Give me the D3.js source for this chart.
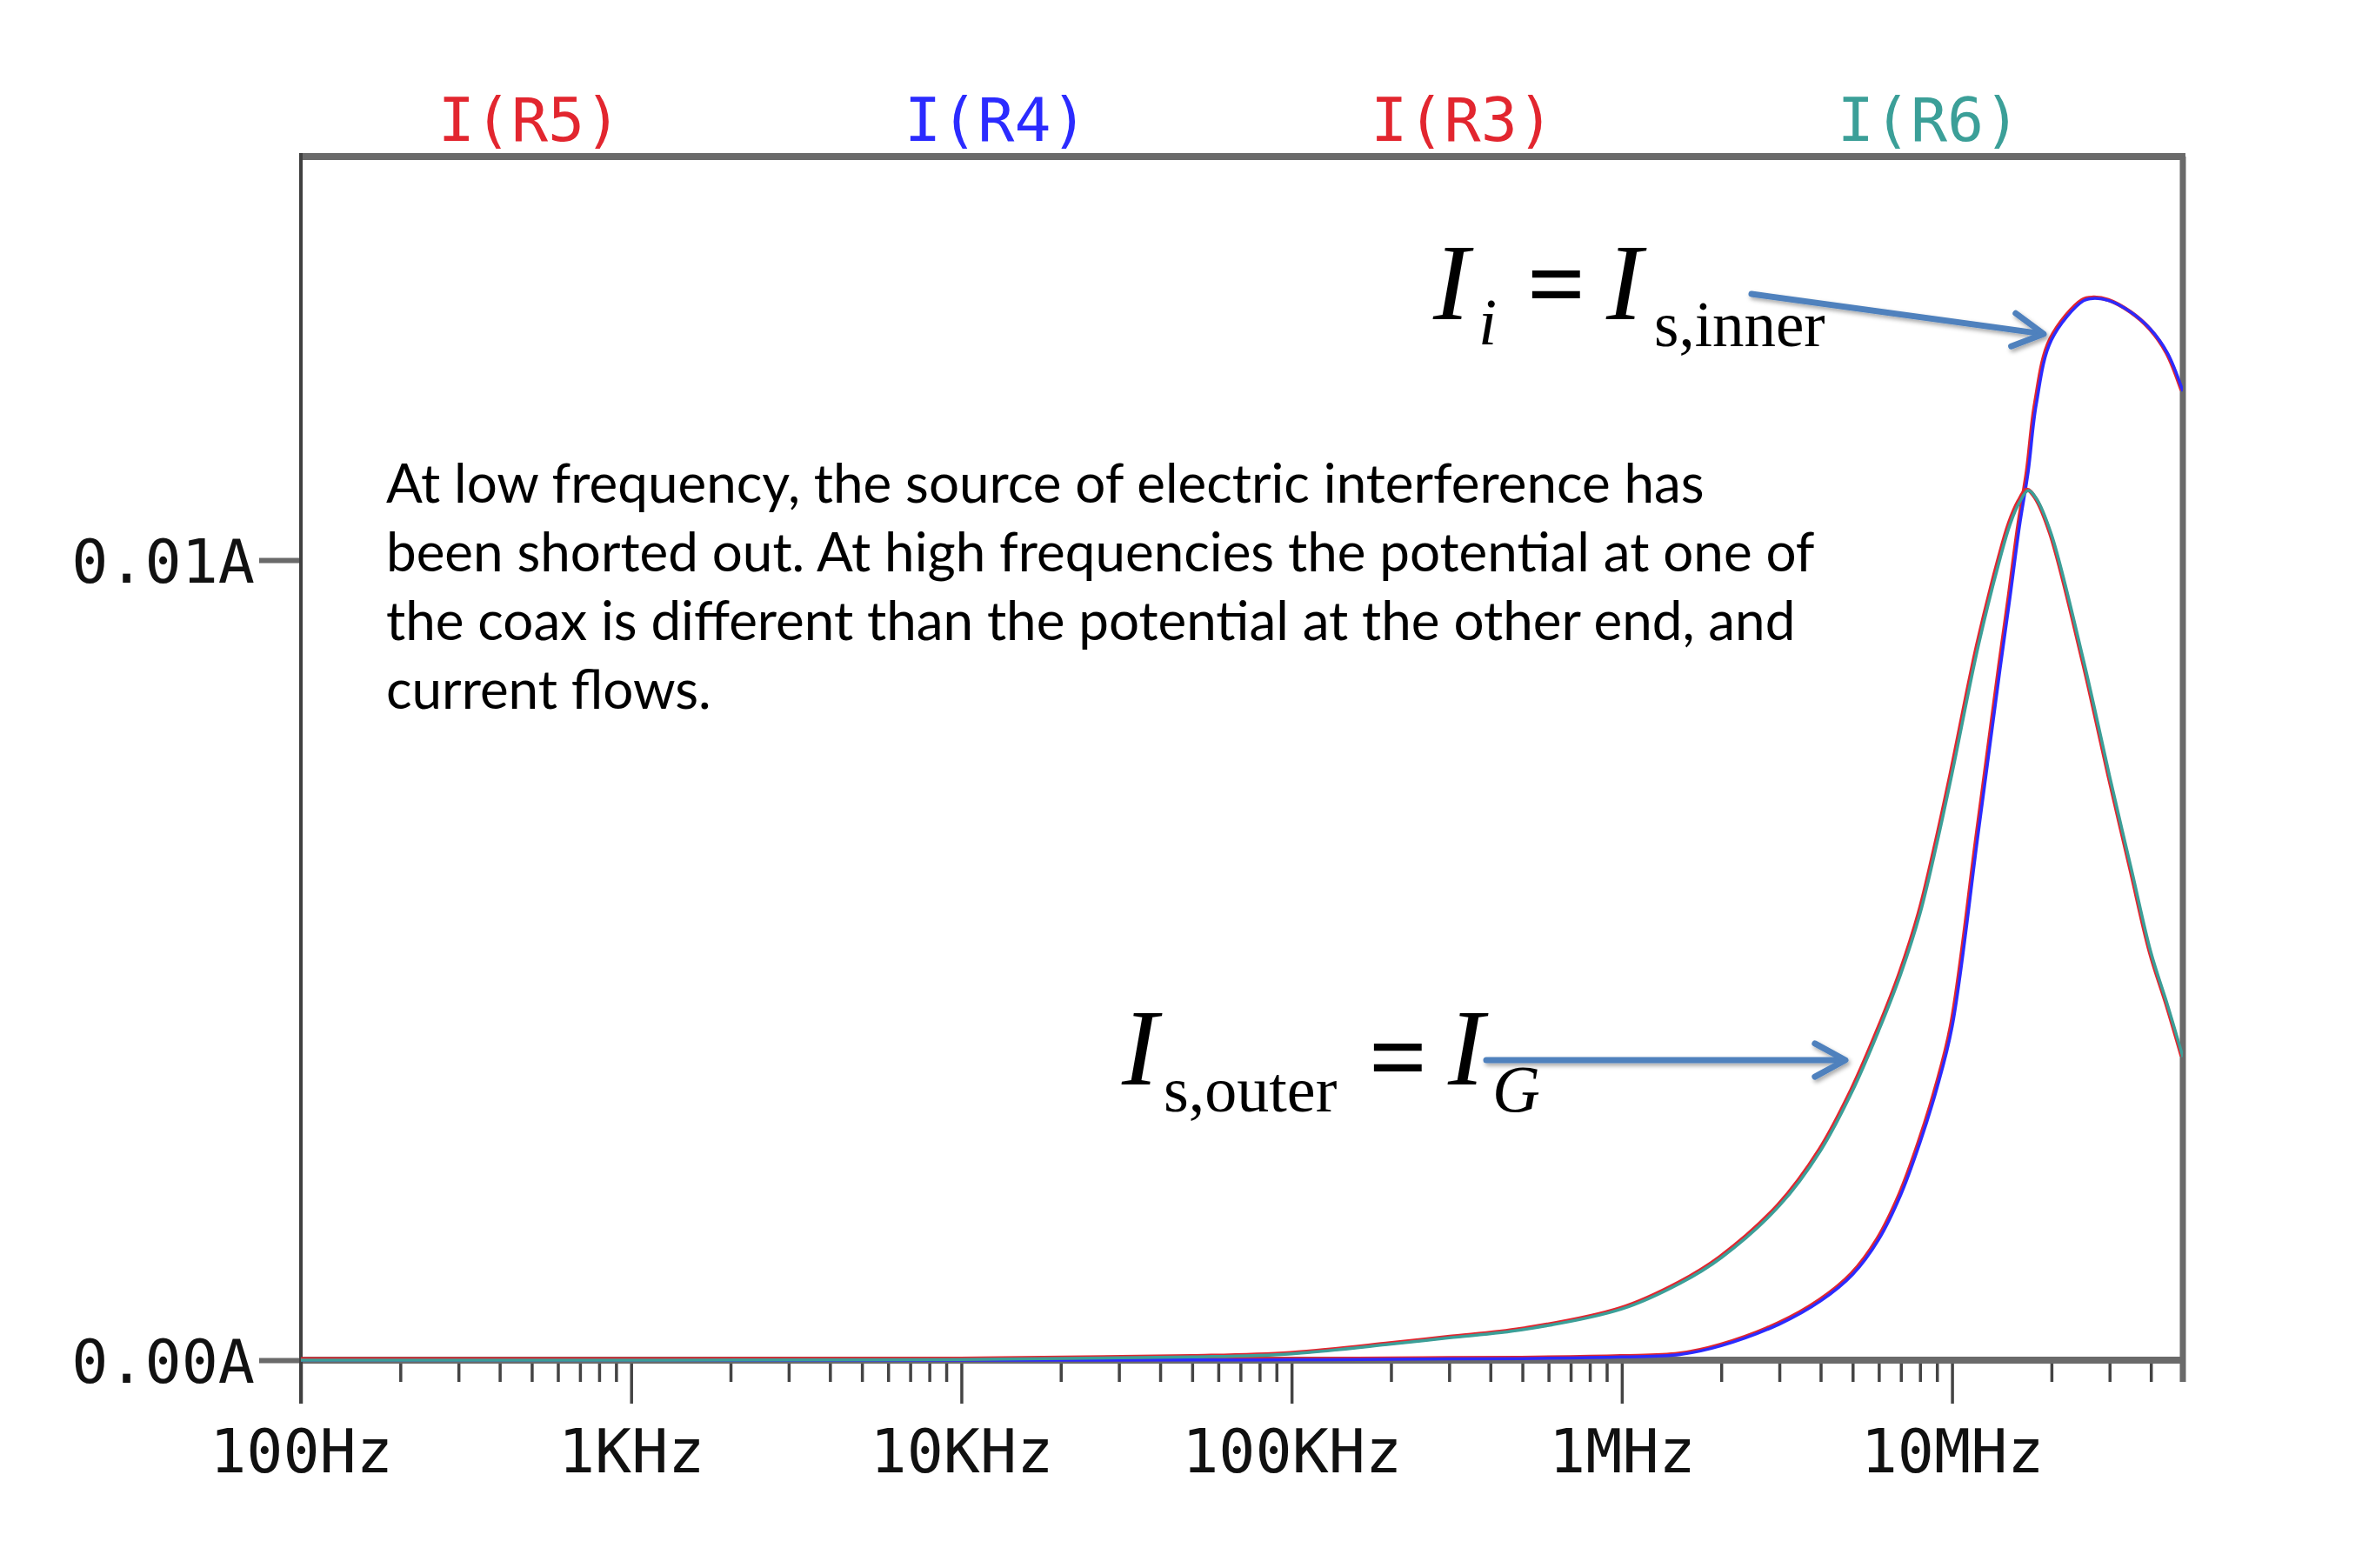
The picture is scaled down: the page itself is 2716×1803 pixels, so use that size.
<!DOCTYPE html>
<html>
<head>
<meta charset="utf-8">
<script src="https://cdn.jsdelivr.net/npm/d3@7/dist/d3.min.js"></script>
<style>
  html, body { margin: 0; padding: 0; background: #fff; }
  svg { display: block; }
</style>
</head>
<body>
<svg id="chart"></svg>
<script>
// frequency grid (Hz) and the two current traces (A)
var freqs = [100, 1e3, 1e4, 5e4, 1e5, 2e5, 3e5, 5e5, 1e6, 1.5e6, 2e6, 3e6, 4e6, 5e6, 6e6, 7e6, 8e6, 9e6,
  10e6, 12e6, 14e6, 15e6, 16e6, 17e6, 18e6, 20e6, 25e6, 27e6, 30e6, 35e6, 40e6, 45e6, 50e6];
// I(R4) and I(R5) lie on top of each other
var innerCurrent = [0, 0, 0, 0.000002, 0.000005, 0.00001, 0.000015, 0.00002, 0.00004, 0.00007, 0.00018,
  0.00045, 0.00074, 0.00107, 0.00151, 0.00207, 0.00272, 0.0034, 0.00416, 0.00658, 0.00866, 0.00955,
  0.01042, 0.0111, 0.01195, 0.01275, 0.01324, 0.01327, 0.01324, 0.01309, 0.01288, 0.01258, 0.01211];
// I(R3) and I(R6) lie on top of each other
var outerCurrent = [0, 0.000001, 0.000008, 0.00004, 0.00008, 0.0002, 0.00028, 0.00038, 0.00064, 0.00096,
  0.00128, 0.00193, 0.00262, 0.00337, 0.00412, 0.00483, 0.00558, 0.00646, 0.00733, 0.00892, 0.01003,
  0.01045, 0.01072, 0.01087, 0.01077, 0.01032, 0.00875, 0.00815, 0.0073, 0.00612, 0.0051, 0.00443, 0.00379];

var traceNames = ['I(R5)', 'I(R4)', 'I(R3)', 'I(R6)'];
var traceColors = ['#e2262f', '#2b2bff', '#e2262f', '#3b9f98'];
var traceValues = [innerCurrent, innerCurrent, outerCurrent, outerCurrent];

var majorTicks = [100, 1e3, 1e4, 1e5, 1e6, 1e7];
var majorLabels = ['100Hz', '1KHz', '10KHz', '100KHz', '1MHz', '10MHz'];
var yTicks = [0, 0.01];
var yLabels = ['0.00A', '0.01A'];

var noteLines = [
  'At low frequency, the source of electric interference has',
  'been shorted out. At high frequencies the potential at one of',
  'the coax is different than the potential at the other end, and',
  'current flows.'
];

(function() {
  var width = 2716, height = 1803;
  var plotLeft = 346, plotRight = 2510, plotTop = 180, plotBottom = 1564;

  var svg = d3.select('#chart').attr('width', width).attr('height', height);
  svg.append('rect').attr('width', width).attr('height', height).attr('fill', '#fff');

  var defs = svg.append('defs');
  defs.append('clipPath').attr('id', 'plotClip')
    .append('rect').attr('x', plotLeft).attr('y', plotTop - 4)
    .attr('width', plotRight - plotLeft).attr('height', plotBottom - plotTop + 8);
  var shadow = defs.append('filter').attr('id', 'shadow').attr('x', '-10%').attr('y', '-50%')
    .attr('width', '130%').attr('height', '200%');
  shadow.append('feDropShadow').attr('dx', 2).attr('dy', 3).attr('stdDeviation', 2.5)
    .attr('flood-color', '#000').attr('flood-opacity', 0.35);

  var x = d3.scaleLog().domain([100, 50e6]).range([plotLeft, plotRight]);
  var y = d3.scaleLinear().domain([0, 0.015043]).range([plotBottom, plotTop]);

  // minor ticks: 2..9 of every decade inside the domain
  var minorTicks = [];
  for (var dec = 100; dec < 50e6; dec *= 10) {
    for (var m = 2; m <= 9; m++) {
      if (dec * m <= 50e6) minorTicks.push(dec * m);
    }
  }

  var monoFont = '"DejaVu Sans Mono", "Liberation Mono", monospace';

  // x axis ticks
  var xMinor = svg.append('g').attr('transform', 'translate(0,' + plotBottom + ')')
    .call(d3.axisBottom(x).tickValues(minorTicks).tickSize(25).tickFormat(''));
  var xMajor = svg.append('g').attr('transform', 'translate(0,' + plotBottom + ')')
    .call(d3.axisBottom(x).tickValues(majorTicks).tickSize(50).tickPadding(29)
      .tickFormat(function(d, i) { return majorLabels[i]; }));
  [xMinor, xMajor].forEach(function(g) {
    g.select('.domain').remove();
    g.selectAll('line').attr('stroke', '#444').attr('stroke-width', 3.5);
  });
  xMajor.selectAll('text').attr('font-family', monoFont).attr('font-size', 70).attr('fill', '#111');

  // y axis
  var yAxis = svg.append('g').attr('transform', 'translate(' + plotLeft + ',0)')
    .call(d3.axisLeft(y).tickValues(yTicks).tickSize(48).tickPadding(5)
      .tickFormat(function(d, i) { return yLabels[i]; }));
  yAxis.select('.domain').remove();
  yAxis.selectAll('line').attr('stroke', '#6a6a6a').attr('stroke-width', 6);
  yAxis.selectAll('text').attr('font-family', monoFont).attr('font-size', 70).attr('fill', '#111')
    .attr('dy', '0.36em');

  // frame
  var frame = svg.append('g');
  frame.append('line').attr('x1', plotLeft).attr('x2', plotRight + 3).attr('y1', plotTop).attr('y2', plotTop)
    .attr('stroke', '#6a6a6a').attr('stroke-width', 8);
  frame.append('line').attr('x1', plotRight).attr('x2', plotRight).attr('y1', plotTop).attr('y2', plotBottom + 25)
    .attr('stroke', '#6a6a6a').attr('stroke-width', 7);
  frame.append('line').attr('x1', plotLeft).attr('x2', plotRight).attr('y1', plotBottom).attr('y2', plotBottom)
    .attr('stroke', '#6a6a6a').attr('stroke-width', 8);
  frame.append('line').attr('x1', plotLeft).attr('x2', plotLeft).attr('y1', plotTop - 4).attr('y2', plotBottom + 50)
    .attr('stroke', '#404040').attr('stroke-width', 4);

  // traces
  var line = d3.line()
    .x(function(d) { return x(d[0]); })
    .y(function(d) { return Math.min(y(d[1]), plotBottom); })
    .curve(d3.curveCatmullRom.alpha(0.5));

  var traces = svg.append('g').attr('clip-path', 'url(#plotClip)');
  traceNames.forEach(function(name, i) {
    var pts = freqs.map(function(f, j) { return [f, traceValues[i][j]]; });
    var red = traceColors[i] === '#e2262f';
    traces.append('path')
      .datum(pts)
      .attr('d', line)
      .attr('fill', 'none')
      .attr('stroke', traceColors[i])
      .attr('stroke-width', red ? 4.5 : 3.5)
      .attr('transform', red ? 'translate(-1.5,-1)' : null);
  });

  // trace names above the plot
  var legendX = d3.scalePoint().domain(traceNames).range([609, 2218]);
  svg.append('g').selectAll('text')
    .data(traceNames)
    .enter()
    .append('text')
    .attr('x', function(d) { return legendX(d); })
    .attr('y', 162)
    .attr('text-anchor', 'middle')
    .attr('font-family', monoFont)
    .attr('font-size', 70)
    .attr('fill', function(d, i) { return traceColors[i]; })
    .text(function(d) { return d; });

  // explanatory note, sized so the first line spans the same width as in the slide
  var note = svg.append('text')
    .attr('font-family', 'Lato, "Noto Sans", sans-serif')
    .attr('font-size', 100)
    .attr('fill', '#000');
  noteLines.forEach(function(t, i) {
    note.append('tspan').attr('x', 444).attr('y', 578 + i * 79).text(t);
  });
  var firstW = note.select('tspan').node().getComputedTextLength();
  note.attr('font-size', 100 * 1516 / firstW);

  // math labels
  var serif = '"Liberation Serif", "Times New Roman", serif';
  function mathLabel(parts) {
    var t = svg.append('text').attr('font-family', serif).attr('fill', '#000');
    parts.forEach(function(p) {
      t.append('tspan')
        .attr('x', p.x).attr('y', p.y)
        .attr('font-size', p.size)
        .attr('font-style', p.italic ? 'italic' : 'normal')
        .attr('font-weight', p.bold ? 'bold' : 'normal')
        .text(p.text);
    });
  }
  mathLabel([
    { text: 'I', x: 1648, y: 367, size: 125, italic: true },
    { text: 'i', x: 1700, y: 396, size: 76, italic: true },
    { text: '=', x: 1756, y: 366, size: 118, bold: true },
    { text: 'I', x: 1847, y: 367, size: 125, italic: true },
    { text: 's,inner', x: 1902, y: 398, size: 73 }
  ]);
  mathLabel([
    { text: 'I', x: 1290, y: 1247, size: 125, italic: true },
    { text: 's,outer', x: 1338, y: 1278, size: 74 },
    { text: '=', x: 1574, y: 1255, size: 118, bold: true },
    { text: 'I', x: 1665, y: 1247, size: 125, italic: true },
    { text: 'G', x: 1716, y: 1278, size: 76, italic: true }
  ]);

  // callout arrows
  function arrow(x1, y1, x2, y2) {
    var ang = Math.atan2(y2 - y1, x2 - x1);
    var len = 40, spread = 0.5;
    var g = svg.append('g').attr('filter', 'url(#shadow)')
      .attr('stroke', '#4f81bd').attr('stroke-width', 7).attr('stroke-linecap', 'round')
      .attr('stroke-linejoin', 'round').attr('fill', 'none');
    g.append('line').attr('x1', x1).attr('y1', y1)
      .attr('x2', x2 - 3 * Math.cos(ang)).attr('y2', y2 - 3 * Math.sin(ang));
    g.append('path').attr('d', 'M' + (x2 - len * Math.cos(ang - spread)) + ',' + (y2 - len * Math.sin(ang - spread)) +
      'L' + x2 + ',' + y2 +
      'L' + (x2 - len * Math.cos(ang + spread)) + ',' + (y2 - len * Math.sin(ang + spread)));
  }
  arrow(2014, 338, 2350, 384);
  arrow(1709, 1219, 2122, 1219);
})();
</script>
</body>
</html>
